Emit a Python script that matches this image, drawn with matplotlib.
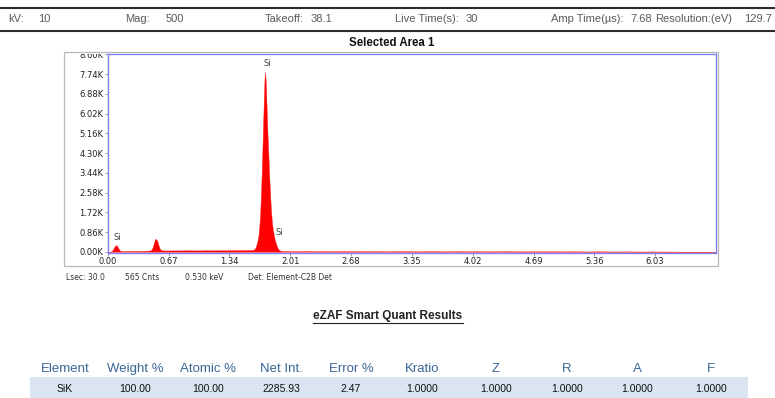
import matplotlib
matplotlib.use("Agg")
import matplotlib.pyplot as plt
from matplotlib.patches import Rectangle
from matplotlib.lines import Line2D
from matplotlib.transforms import Bbox, TransformedBbox

# ---- acquisition header ----
header_labels = ["kV:", "Mag:", "Takeoff:", "Live Time(s):", "Amp Time(µs):", "Resolution:(eV)"]
header_values = ["10", "500", "38.1", "30", "7.68", "129.7"]

# ---- EDS spectrum (energy in keV, counts per channel), by region ----
si_l_energy = [0.00, 0.01, 0.02, 0.03, 0.04, 0.05, 0.06, 0.07, 0.08, 0.09, 0.10,
               0.11, 0.12, 0.13, 0.14, 0.15, 0.16, 0.17, 0.18, 0.19, 0.20]
si_l_counts = [0, 0, 0, 5, 20, 50, 110, 190, 255, 285, 270,
               205, 130, 70, 42, 32, 28, 26, 25, 27, 28]

bg_low_energy = [0.25, 0.30, 0.35, 0.40, 0.45]
bg_low_counts = [30, 34, 36, 40, 48]

o_k_energy = [0.47, 0.48, 0.49, 0.50, 0.51, 0.52, 0.53, 0.54, 0.55, 0.56, 0.57,
              0.58, 0.59, 0.60, 0.61, 0.62]
o_k_counts = [60, 85, 140, 250, 400, 530, 565, 520, 420, 280, 165,
              100, 72, 62, 58, 56]

bg_mid_energy = [0.65, 0.70, 0.75, 0.80, 0.85, 0.90, 0.95, 1.00, 1.05, 1.10,
                 1.15, 1.20, 1.25, 1.30, 1.35, 1.40, 1.45, 1.50, 1.55]
bg_mid_counts = [56, 58, 60, 57, 61, 63, 60, 58, 62, 64,
                 60, 63, 66, 63, 65, 68, 66, 70, 72]

si_k_energy = [1.58, 1.59, 1.60, 1.61, 1.62, 1.63, 1.64, 1.65, 1.66, 1.67,
               1.68, 1.69, 1.70, 1.71, 1.72, 1.73, 1.74, 1.75, 1.76, 1.77,
               1.78, 1.79, 1.80, 1.81, 1.82, 1.83, 1.84, 1.85, 1.86, 1.87,
               1.88, 1.89, 1.90, 1.91, 1.92]
si_k_counts = [75, 80, 88, 100, 130, 200, 320, 480, 700, 1100,
               1700, 2700, 3900, 5300, 6700, 7820, 7500, 6300, 5100, 4200,
               3200, 2400, 1700, 1250, 950, 720, 530, 390, 270, 175,
               115, 75, 50, 38, 32]

bg_high_energy = [2.0, 2.1, 2.2, 2.3, 2.4, 2.5, 2.6, 2.7, 2.8, 2.9, 3.0,
                  3.1, 3.2, 3.3, 3.4, 3.5, 3.6, 3.7, 3.8, 3.9, 4.0,
                  4.1, 4.2, 4.3, 4.4, 4.5, 4.6, 4.7, 4.8, 4.9, 5.0,
                  5.1, 5.2, 5.3, 5.4, 5.5, 5.6, 5.7, 5.8, 5.9, 6.0,
                  6.1, 6.2, 6.3, 6.4, 6.7]
bg_high_counts = [30, 24, 32, 22, 28, 23, 30, 21, 27, 22, 26,
                  20, 25, 28, 19, 24, 26, 18, 23, 25, 19,
                  24, 17, 22, 24, 18, 16, 21, 17, 20, 15,
                  19, 16, 13, 18, 15, 12, 16, 13, 10, 14,
                  11, 9, 6, 0, 0]

# peak identification labels: (text, energy, counts)
peak_labels = [("Si", 0.107, 610), ("Si", 1.76, 8220), ("Si", 1.885, 860)]

# axis ticks
x_ticks = [0.00, 0.67, 1.34, 2.01, 2.68, 3.35, 4.02, 4.69, 5.36, 6.03]
y_ticks = [0, 860, 1720, 2580, 3440, 4300, 5160, 6020, 6880, 7740, 8600]

status_items = ["Lsec: 30.0", "565 Cnts", "0.530 keV", "Det: Element-C2B Det"]

# ---- quantification table ----
table_columns = ["Element", "Weight %", "Atomic %", "Net Int.", "Error %",
                 "Kratio", "Z", "R", "A", "F"]
table_row = ["SiK", "100.00", "100.00", "2285.93", "2.47",
             "1.0000", "1.0000", "1.0000", "1.0000", "1.0000"]

W, H = 775, 398


def fx(px):
    return px / W


def fy(py):
    return 1 - py / H


fig = plt.figure(figsize=(W / 100, H / 100), dpi=100)
fig.patch.set_facecolor("white")

arial = ["Liberation Sans", "DejaVu Sans"]

# header rules and fields
for yy in (8, 31):
    fig.add_artist(Line2D([0, 1], [fy(yy)] * 2, transform=fig.transFigure,
                          color="#2b2b2b", lw=1.5))
label_x = [8, 125, 265, 395, 551, 655]
value_x = [38, 166, 311, 466, 630, 744]
for lab, val, lx, vx in zip(header_labels, header_values, label_x, value_x):
    fig.text(fx(lx), fy(19), lab, family=arial, fontsize=8, color="#5a5a5a",
             ha="left", va="center")
    fig.text(fx(vx), fy(19), val, family=arial, fontsize=8, color="#5a5a5a",
             ha="left", va="center")

# spectrum panel
fig.text(fx(392), fy(43), "Selected Area 1", family=arial, fontsize=8.3,
         fontweight="bold", color="#111111", ha="center", va="center")
fig.add_artist(Rectangle((fx(64), fy(266)), fx(654), 214 / H,
                         transform=fig.transFigure, fill=False,
                         ec="#b8b8b8", lw=0.9))

ax = fig.add_axes([fx(107.7), fy(252.8), fx(608.3), (252.8 - 54.3) / H])
energy = (si_l_energy + bg_low_energy + o_k_energy + bg_mid_energy
          + si_k_energy + bg_high_energy)
counts = (si_l_counts + bg_low_counts + o_k_counts + bg_mid_counts
          + si_k_counts + bg_high_counts)
ax.fill_between(energy, counts, 0, color="#ff0000", lw=0.3, ec="#ff2020")

for txt, e, c in peak_labels:
    ax.text(e, c, txt, fontsize=6, color="#444444", ha="center", va="center")

ax.set_xlim(0, 6.70)
ax.set_ylim(-45, 8600)
ax.set_xticks(x_ticks)
ax.set_xticklabels([f"{v:.2f}" for v in x_ticks])
ax.set_yticks(y_ticks)
ax.set_yticklabels([f"{v / 1000:.2f}K" for v in y_ticks])
ax.tick_params(direction="out", length=2, width=0.6, color="#888888",
               labelsize=6, labelcolor="#222222", pad=1)
for sp in ax.spines.values():
    sp.set_color("#8080ff")
    sp.set_linewidth(1.0)

clip = TransformedBbox(Bbox([[0, 0], [1, fy(53.6)]]), fig.transFigure)
for t in ax.yaxis.get_major_ticks():
    t.label1.set_clip_box(clip)
    t.label1.set_clip_on(True)

status_x = [66, 125, 185, 248]
for s, sx in zip(status_items, status_x):
    fig.text(fx(sx), fy(277), s, fontsize=5.5, color="#333333",
             ha="left", va="center")

# quantification results
res = fig.text(fx(388), fy(316), "eZAF Smart Quant Results", family=arial,
               fontsize=8.5, fontweight="bold", color="#222222",
               ha="center", va="center")

col_x = [65, 135, 208, 281, 351, 422, 496, 567, 637, 711]
for name, cx in zip(table_columns, col_x):
    fig.text(fx(cx), fy(369), name, family=arial, fontsize=9.5,
             color="#3a6795", ha="center", va="center")
fig.add_artist(Rectangle((fx(30), 0), fx(718), fy(377), transform=fig.transFigure,
                         color="#dbe5f1", lw=0))
for val, cx in zip(table_row, col_x):
    fig.text(fx(cx), fy(389), val, family=arial, fontsize=7.5,
             color="#111111", ha="center", va="center")

fig.canvas.draw()
bb = res.get_window_extent()
fig.add_artist(Line2D([bb.x0 / W, bb.x1 / W], [(bb.y0 - 1) / H] * 2,
                      transform=fig.transFigure, color="#222222", lw=0.8))

fig.savefig("out.png", dpi=100)
